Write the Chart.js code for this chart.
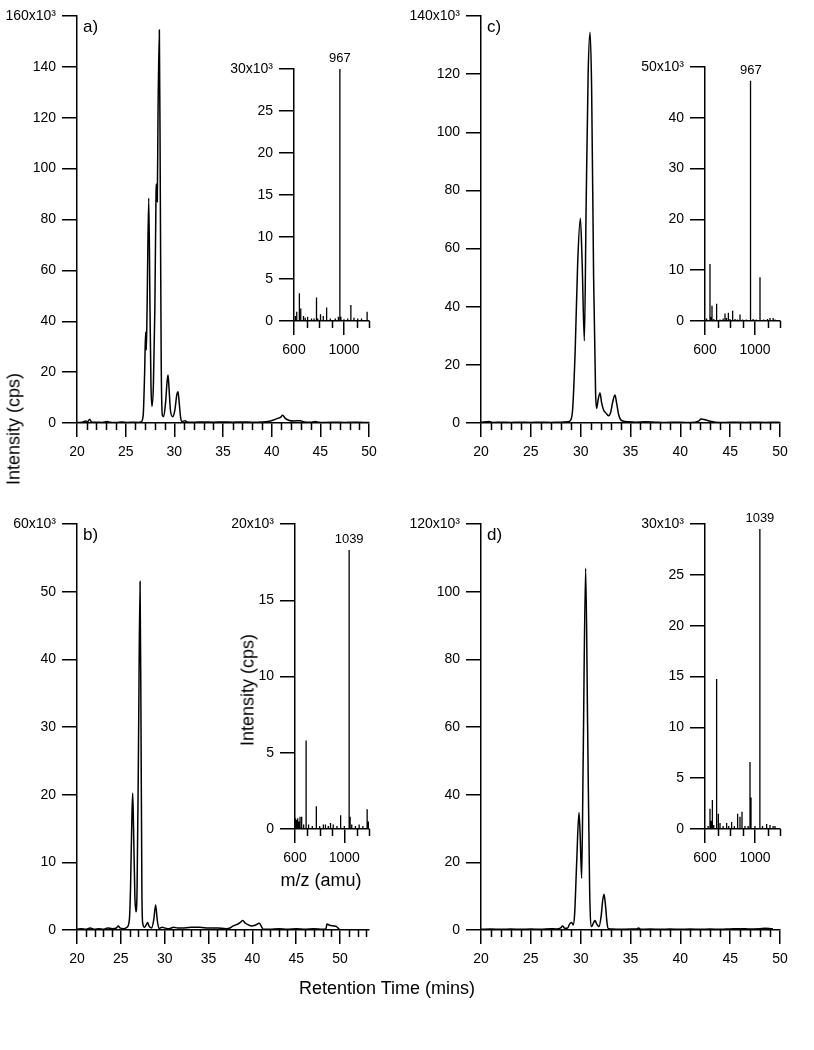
<!DOCTYPE html>
<html>
<head>
<meta charset="utf-8">
<script src="https://cdn.jsdelivr.net/npm/chart.js@4.4.1/dist/chart.umd.min.js"></script>
<style>
  body { margin: 0; background: #fff; }
  #fig { position: relative; width: 814px; height: 1050px; font-family: 'Liberation Sans', Arial, sans-serif; color: #000; }
  canvas { position: absolute; }
  .lbl { position: absolute; font-size: 18px; white-space: nowrap; transform: translate(-50%, -50%); }
  .rot { transform: translate(-50%, -50%) rotate(-90deg); }
</style>
</head>
<body>
<div id="fig">
  <canvas id="mainA" width="400" height="480" style="left:0;top:0"></canvas>
  <canvas id="mainC" width="414" height="480" style="left:400px;top:0"></canvas>
  <canvas id="mainB" width="400" height="480" style="left:0;top:500px"></canvas>
  <canvas id="mainD" width="414" height="480" style="left:400px;top:500px"></canvas>
  <canvas id="insetA" width="160" height="330" style="left:220px;top:50px"></canvas>
  <canvas id="insetC" width="170" height="335" style="left:630px;top:45px"></canvas>
  <canvas id="insetB" width="160" height="370" style="left:220px;top:505px"></canvas>
  <canvas id="insetD" width="170" height="370" style="left:630px;top:505px"></canvas>
  <div class="lbl rot" style="left:14px;top:429px">Intensity (cps)</div>
  <div class="lbl rot" style="left:248px;top:690px">Intensity (cps)</div>
  <div class="lbl" style="left:321px;top:880px">m/z (amu)</div>
  <div class="lbl" style="left:387px;top:988px">Retention Time (mins)</div>
</div>
<script>
// Chromatograms (retention time in mins, intensity in 10^3 cps)
const traceA = [[20,0.2],[20.5,0.3],[20.9,0.8],[21.1,0.5],[21.3,1.5],[21.5,0.4],[22,0.3],[22.6,0.2],[23.1,0.6],[23.4,0.3],[24,0.2],[24.6,0.4],[25.2,0.2],[25.8,0.3],[26.3,0.2],[26.6,0.5],[26.8,3],[26.95,20],[27.05,35.8],[27.12,28.7],[27.2,45],[27.37,88.4],[27.5,45],[27.6,15],[27.7,6.5],[27.85,15],[28,45],[28.12,90],[28.19,94],[28.25,87],[28.32,120],[28.46,154.5],[28.56,90],[28.65,25],[28.77,3],[28.9,2.5],[29.1,8],[29.25,16],[29.35,18.9],[29.45,14],[29.6,5],[29.83,2.5],[30.05,5],[30.25,11],[30.38,12.3],[30.5,8],[30.65,2],[30.8,0.6],[31.1,0.9],[31.3,0.4],[32,0.3],[33,0.4],[34,0.3],[35,0.4],[36,0.3],[37,0.4],[38,0.3],[39,0.4],[39.6,0.6],[40.2,1.2],[40.6,1.8],[40.9,2.2],[41.13,3],[41.4,1.8],[41.8,1],[42.3,0.8],[42.9,0.9],[43.4,0.4],[44,0.3],[44.5,0.6],[44.8,0.3],[45.5,0.2],[46.5,0.3],[47.5,0.2],[48.5,0.3],[49.5,0.2],[50,0.2]];
const traceB = [[20,0.1],[20.5,0.2],[21,0.1],[21.5,0.3],[22,0.1],[22.5,0.2],[23,0.1],[23.5,0.3],[24,0.2],[24.5,0.3],[24.7,0.6],[24.9,0.3],[25.3,0.2],[25.7,0.4],[25.97,1.5],[26.1,6],[26.25,16],[26.35,20.2],[26.45,15],[26.6,5],[26.73,2.7],[26.85,6],[27,25],[27.19,51.5],[27.3,30],[27.4,6],[27.49,1],[27.7,0.4],[27.9,0.8],[28.06,1.1],[28.2,0.6],[28.5,0.3],[28.75,1.5],[28.97,3.7],[29.15,1.5],[29.35,0.2],[29.7,0.4],[30,0.3],[30.5,0.2],[31,0.4],[31.5,0.3],[32,0.3],[33,0.4],[34,0.4],[35,0.3],[36,0.3],[37,0.2],[37.45,0.3],[37.8,0.6],[38.2,0.8],[38.6,1.1],[38.9,1.4],[39.2,1],[39.5,0.8],[39.9,0.6],[40.3,0.7],[40.8,1],[41,0.6],[41.25,0.1],[42,0.1],[43,0.2],[44,0.1],[45,0.2],[46,0.1],[47,0.2],[48,0.1],[48.4,0.2],[48.5,0.9],[48.8,0.7],[49.3,0.6],[49.6,0.5],[50.07,0],[50.2,0]];
const traceC = [[20,0.2],[20.8,0.5],[21.2,0.2],[22,0.3],[23,0.2],[24,0.3],[25,0.2],[26,0.3],[27,0.2],[28,0.3],[28.7,0.4],[29,1],[29.2,5],[29.45,25],[29.7,55],[29.97,70.4],[30.15,55],[30.37,28.3],[30.55,75],[30.75,120],[30.94,134.4],[31.1,115],[31.3,50],[31.5,10],[31.6,5],[31.75,8],[31.94,10.3],[32.1,7],[32.3,4.5],[32.54,3.4],[32.8,2.5],[33,3.5],[33.2,7],[33.44,9.6],[33.6,7],[33.8,3],[34,1.2],[34.3,0.6],[34.8,0.4],[35.5,0.3],[36.5,0.4],[37.5,0.3],[38.5,0.2],[39.5,0.3],[40.5,0.2],[41.5,0.3],[41.8,0.6],[42.1,1.4],[42.5,1.1],[43,0.6],[43.5,0.3],[44.5,0.2],[45.5,0.3],[46.5,0.2],[47.5,0.3],[48.5,0.2],[49.5,0.3],[50,0.2]];
const traceD = [[20,0.2],[21,0.3],[22,0.2],[23,0.3],[24,0.2],[25,0.3],[26,0.2],[27,0.4],[27.6,0.3],[28,0.6],[28.2,1.2],[28.4,0.5],[28.7,0.6],[28.9,1.8],[29.1,2.2],[29.25,1.5],[29.4,5],[29.6,20],[29.83,34.7],[29.95,28],[30.1,15.3],[30.25,50],[30.5,106.9],[30.7,60],[30.9,12],[31.1,1],[31.3,2.2],[31.44,2.8],[31.6,1.8],[31.84,1],[32.05,4],[32.2,8.5],[32.34,10.6],[32.5,7],[32.65,2],[32.78,0.4],[33.2,0.3],[34,0.2],[35,0.3],[35.6,0.3],[35.8,0.6],[36,0.2],[37,0.3],[38,0.2],[39,0.3],[40,0.2],[41,0.3],[42,0.2],[43,0.3],[44,0.2],[45,0.3],[46,0.4],[47,0.3],[48,0.4],[48.5,0.5],[49,0.4],[49.3,0.3]];

// Mass spectra insets (m/z, intensity in 10^3 cps)
const specA = [[611,0.6],[622,1.1],[643,3.3],[654,1.5],[676,0.6],[690,0.4],[709,0.5],[740,0.3],[760,0.3],[780,2.8],[790,0.3],[812,0.8],[834,0.6],[861,1.6],[890,0.3],[930,0.3],[955,0.5],[967,30],[975,0.5],[1000,0.2],[1030,0.3],[1055,1.9],[1080,0.4],[1110,0.3],[1140,0.3],[1185,1.1]];
const specB = [[603,0.7],[613,0.6],[622,0.7],[632,0.5],[641,0.8],[654,0.8],[670,0.3],[690,5.8],[710,0.3],[740,0.2],[773,1.5],[800,0.2],[830,0.3],[847,0.3],[870,0.2],[888,0.4],[910,0.3],[940,0.2],[970,0.9],[1000,0.2],[1039,18.3],[1047,0.8],[1060,0.3],[1090,0.2],[1120,0.3],[1150,0.2],[1185,1.3],[1195,0.5]];
const specC = [[613,0.5],[640,11.2],[650,0.8],[656,3],[670,0.4],[693,3.4],[720,0.3],[745,0.5],[760,1.5],[772,0.6],[787,1.6],[800,0.4],[821,2],[840,0.4],[860,0.3],[880,1.3],[900,0.3],[930,0.3],[960,3.2],[967,47.3],[985,0.4],[1010,0.3],[1040,8.6],[1070,0.3],[1100,0.4],[1120,0.6],[1145,0.6],[1160,0.3]];
const specD = [[625,0.3],[640,2],[650,0.8],[659,2.85],[670,0.4],[693,14.75],[707,1.5],[720,0.6],[745,0.3],[773,0.6],[790,0.3],[813,0.7],[835,0.3],[861,1.5],[880,1.2],[896,1.7],[920,0.3],[945,0.3],[960,6.6],[968,3.1],[1000,0.3],[1039,29.5],[1060,0.3],[1093,0.5],[1120,0.4],[1145,0.3],[1160,0.3]];

// Tick values
const timeTicks = [20, 25, 30, 35, 40, 45, 50];
const mzTicks = [600, 1000];
const yTicksA = [0, 20, 40, 60, 80, 100, 120, 140, 160];
const yTicksB = [0, 10, 20, 30, 40, 50, 60];
const yTicksC = [0, 20, 40, 60, 80, 100, 120, 140];
const yTicksD = [0, 20, 40, 60, 80, 100, 120];
const yTicksInsetA = [0, 5, 10, 15, 20, 25, 30];
const yTicksInsetB = [0, 5, 10, 15, 20];
const yTicksInsetC = [0, 10, 20, 30, 40, 50];
const yTicksInsetD = [0, 5, 10, 15, 20, 25, 30];

Chart.defaults.font.family = "'Liberation Sans', Arial, sans-serif";
Chart.defaults.font.size = 14;
Chart.defaults.color = '#000';

// minor ticks, panel letters and peak labels
const figText = {
  id: 'figText',
  afterDraw(chart, args, opts) {
    const ctx = chart.ctx;
    const area = chart.chartArea;
    const xs = chart.scales.x, ys = chart.scales.y;
    ctx.save();
    ctx.strokeStyle = '#000';
    ctx.lineWidth = 1.5;
    ctx.beginPath();
    for (let v = xs.min; v <= xs.max + 1e-6; v += opts.minorStep) {
      if (opts.majors.includes(v)) continue;
      const px = Math.round(xs.getPixelForValue(v)) + 0.5;
      ctx.moveTo(px, area.bottom);
      ctx.lineTo(px, area.bottom + 7);
    }
    ctx.stroke();
    ctx.fillStyle = '#000';
    if (opts.letter) {
      ctx.font = "17px 'Liberation Sans', Arial, sans-serif";
      ctx.textAlign = 'left';
      ctx.textBaseline = 'middle';
      ctx.fillText(opts.letter, area.left + 6, area.top + 11);
    }
    if (opts.peak) {
      ctx.font = "13px 'Liberation Sans', Arial, sans-serif";
      ctx.textAlign = 'center';
      ctx.textBaseline = 'bottom';
      ctx.fillText(opts.peak.text, xs.getPixelForValue(opts.peak.x), ys.getPixelForValue(opts.peak.y) - 4);
    }
    ctx.restore();
  }
};

function sticks(spec) {
  const pts = [];
  spec.forEach(([m, h]) => {
    pts.push({ x: m, y: 0 }, { x: m, y: h }, { x: m, y: 0 });
  });
  return pts;
}

function makeChart(id, c) {
  return new Chart(document.getElementById(id), {
    type: 'line',
    data: {
      datasets: [{
        data: c.points,
        borderColor: '#000',
        borderWidth: c.lineWidth,
        pointRadius: 0,
        fill: false,
        tension: 0,
        cubicInterpolationMode: c.smooth ? 'monotone' : 'default'
      }]
    },
    options: {
      responsive: false,
      animation: false,
      events: [],
      layout: { padding: { top: c.padTop, right: c.padRight, left: 0, bottom: 0 } },
      plugins: {
        legend: { display: false },
        tooltip: { enabled: false },
        figText: { minorStep: c.minorStep, majors: c.xTicks, letter: c.letter, peak: c.peak }
      },
      scales: {
        x: {
          type: 'linear',
          min: c.xMin,
          max: c.xMax,
          afterBuildTicks: s => { s.ticks = c.xTicks.map(v => ({ value: v })); },
          afterFit: s => { s.height = c.xHeight; },
          grid: { drawOnChartArea: false, drawTicks: true, tickLength: 14, color: '#000', lineWidth: 1.5 },
          border: { color: '#000', width: 1.5 },
          ticks: { padding: 7, maxRotation: 0, autoSkip: false, callback: v => String(v) }
        },
        y: {
          type: 'linear',
          min: 0,
          max: c.yTicks[c.yTicks.length - 1],
          afterBuildTicks: s => { s.ticks = c.yTicks.map(v => ({ value: v })); },
          afterFit: s => { s.width = c.yWidth; },
          grid: { drawOnChartArea: false, drawTicks: true, tickLength: 15, color: '#000', lineWidth: 1.5 },
          border: { color: '#000', width: 1.5 },
          ticks: {
            padding: 6,
            autoSkip: false,
            callback: (v, i, t) => i === t.length - 1 ? v + 'x10\u00B3' : String(v)
          }
        }
      }
    },
    plugins: [figText]
  });
}

const mainBase = { smooth: true, lineWidth: 1.5, xMin: 20, xTicks: timeTicks, minorStep: 1 };
const insetBase = { smooth: false, lineWidth: 1.3, xMin: 600, xMax: 1200, xTicks: mzTicks, minorStep: 100 };

makeChart('mainA', { ...mainBase, points: traceA.map(([x, y]) => ({ x, y })), xMax: 50, yTicks: yTicksA,
  yWidth: 77, padTop: 16, padRight: 31, xHeight: 57, letter: 'a)' });
makeChart('mainC', { ...mainBase, points: traceC.map(([x, y]) => ({ x, y })), xMax: 50, yTicks: yTicksC,
  yWidth: 81, padTop: 16, padRight: 34, xHeight: 57, letter: 'c)' });
makeChart('mainB', { ...mainBase, points: traceB.map(([x, y]) => ({ x, y })), xMax: 53.3, yTicks: yTicksB,
  yWidth: 77, padTop: 24, padRight: 31, xHeight: 50, letter: 'b)' });
makeChart('mainD', { ...mainBase, points: traceD.map(([x, y]) => ({ x, y })), xMax: 50, yTicks: yTicksD,
  yWidth: 81, padTop: 24, padRight: 34, xHeight: 50, letter: 'd)' });

makeChart('insetA', { ...insetBase, points: sticks(specA), yTicks: yTicksInsetA,
  yWidth: 74, padTop: 19, padRight: 11, xHeight: 59, peak: { x: 967, y: 30, text: '967' } });
makeChart('insetC', { ...insetBase, points: sticks(specC), yTicks: yTicksInsetC,
  yWidth: 75, padTop: 22, padRight: 20, xHeight: 59, peak: { x: 967, y: 47.3, text: '967' } });
makeChart('insetB', { ...insetBase, points: sticks(specB), yTicks: yTicksInsetB,
  yWidth: 75, padTop: 19, padRight: 11, xHeight: 46, peak: { x: 1039, y: 18.3, text: '1039' } });
makeChart('insetD', { ...insetBase, points: sticks(specD), yTicks: yTicksInsetD,
  yWidth: 75, padTop: 19, padRight: 20, xHeight: 46, peak: { x: 1039, y: 29.5, text: '1039' } });
</script>
</body>
</html>
